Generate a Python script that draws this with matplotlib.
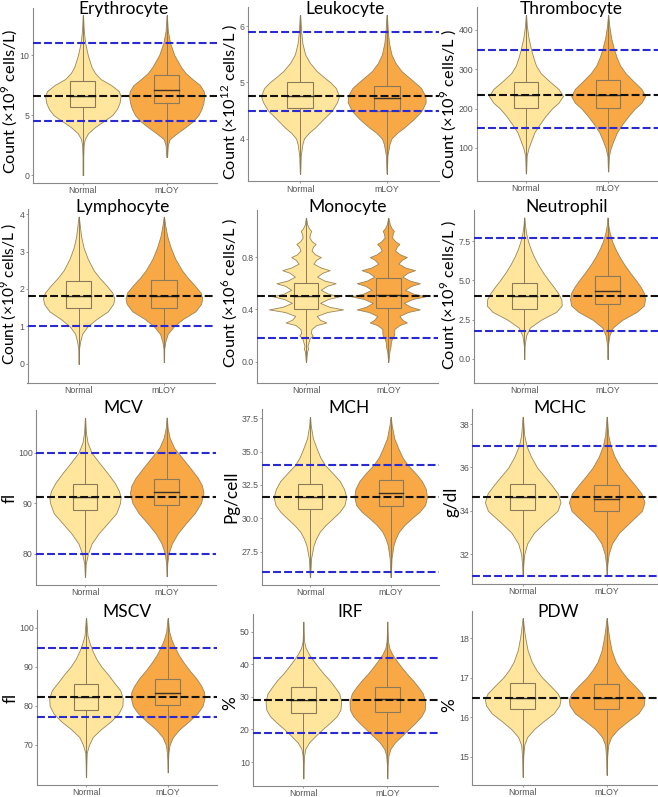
import numpy as np
import matplotlib.pyplot as plt
from matplotlib.patches import Rectangle

plt.rcParams['mathtext.fontset'] = 'custom'
plt.rcParams['mathtext.rm'] = 'Lato'

groups = ['Normal', 'mLOY']

# ---- Erythrocyte (x10^9 cells/L)
ery_y_n = [0, 1.5, 2.5, 3.0, 3.5, 4.0, 4.5, 5.0, 5.5, 6.0, 6.6, 7.0, 7.5, 8.0, 8.5, 9.0, 10.0, 11.0, 12.0, 13.3]
ery_w_n = [0.01, 0.01, 0.02, 0.05, 0.14, 0.32, 0.55, 0.78, 0.9, 0.97, 1.0, 0.95, 0.75, 0.47, 0.32, 0.23, 0.13, 0.06, 0.025, 0.005]
ery_y_m = [1.5, 2.5, 3.0, 3.5, 4.0, 4.5, 5.0, 5.5, 6.0, 6.6, 7.0, 7.5, 8.0, 8.5, 9.0, 10.0, 11.0, 12.0, 13.3]
ery_w_m = [0.01, 0.03, 0.08, 0.28, 0.5, 0.7, 0.84, 0.92, 0.97, 1.0, 0.98, 0.88, 0.68, 0.5, 0.38, 0.2, 0.09, 0.03, 0.005]
ery_box = [[5.64, 6.6, 7.83], [5.97, 7.08, 8.3]]
ery_ref = [6.6, [4.5, 11.0]]

# ---- Leukocyte
leu_y_n = [3.38, 3.7, 3.9, 4.0, 4.1, 4.2, 4.35, 4.5, 4.65, 4.76, 4.9, 5.0, 5.1, 5.2, 5.35, 5.5, 5.7, 5.9, 6.2]
leu_w_n = [0.005, 0.02, 0.06, 0.1, 0.22, 0.39, 0.6, 0.82, 0.95, 1.0, 0.92, 0.78, 0.6, 0.43, 0.25, 0.13, 0.06, 0.03, 0.005]
leu_y_m = [3.38, 3.7, 3.9, 4.0, 4.1, 4.2, 4.35, 4.5, 4.65, 4.76, 4.9, 5.0, 5.1, 5.2, 5.35, 5.5, 5.7, 5.9, 6.2]
leu_w_m = [0.005, 0.02, 0.07, 0.12, 0.26, 0.45, 0.7, 0.9, 1.0, 0.99, 0.88, 0.72, 0.55, 0.38, 0.22, 0.12, 0.06, 0.03, 0.005]
leu_box = [[4.54, 4.76, 5.0], [4.49, 4.72, 4.94]]
leu_ref = [4.76, [4.5, 5.9]]

# ---- Thrombocyte
thr_y_n = [35, 80, 100, 120, 140, 160, 180, 200, 215, 232, 250, 270, 290, 310, 330, 350, 380, 410, 438]
thr_w_n = [0.005, 0.02, 0.07, 0.15, 0.23, 0.37, 0.52, 0.7, 0.88, 1.0, 0.88, 0.63, 0.4, 0.27, 0.2, 0.14, 0.07, 0.025, 0.005]
thr_y_m = [40, 80, 100, 120, 140, 160, 180, 200, 215, 232, 250, 270, 290, 310, 330, 350, 380, 410, 438]
thr_w_m = [0.005, 0.02, 0.07, 0.15, 0.24, 0.38, 0.54, 0.72, 0.9, 1.0, 0.9, 0.68, 0.47, 0.32, 0.23, 0.16, 0.08, 0.03, 0.005]
thr_box = [[201, 234, 267], [202, 235, 272]]
thr_ref = [234, [150, 350]]

# ---- Lymphocyte
lym_y_n = [0, 0.4, 0.6, 0.8, 1.0, 1.2, 1.4, 1.6, 1.75, 1.9, 2.1, 2.3, 2.5, 2.8, 3.1, 3.4, 3.7, 3.93]
lym_w_n = [0.005, 0.01, 0.04, 0.09, 0.23, 0.47, 0.76, 0.9, 0.93, 0.88, 0.72, 0.54, 0.39, 0.24, 0.13, 0.065, 0.03, 0.005]
lym_y_m = [0.05, 0.4, 0.6, 0.8, 1.0, 1.2, 1.4, 1.6, 1.75, 1.9, 2.1, 2.3, 2.5, 2.8, 3.1, 3.4, 3.7, 3.93]
lym_w_m = [0.005, 0.01, 0.04, 0.1, 0.26, 0.5, 0.82, 0.97, 1.0, 0.96, 0.8, 0.62, 0.47, 0.3, 0.18, 0.09, 0.035, 0.005]
lym_box = [[1.48, 1.82, 2.2], [1.48, 1.82, 2.23]]
lym_ref = [1.82, [1.0]]

# ---- Monocyte (counts come in 0.1 steps -> spiky violins)
mon_y = [0.0, 0.05, 0.08, 0.1, 0.12, 0.15, 0.18, 0.2, 0.22, 0.25, 0.28, 0.3, 0.32, 0.35, 0.38, 0.4,
         0.42, 0.45, 0.48, 0.5, 0.52, 0.55, 0.58, 0.6, 0.62, 0.65, 0.68, 0.7, 0.72, 0.75, 0.78, 0.8,
         0.82, 0.85, 0.88, 0.9, 0.92, 0.95, 0.98, 1.0, 1.02, 1.05, 1.1]
mon_w_n = [0.005, 0.02, 0.03, 0.06, 0.04, 0.07, 0.1, 0.18, 0.13, 0.15, 0.28, 0.55, 0.38, 0.29, 0.57, 1.0,
           0.63, 0.38, 0.6, 0.9, 0.6, 0.4, 0.56, 0.8, 0.5, 0.3, 0.44, 0.64, 0.4, 0.2, 0.28, 0.4,
           0.25, 0.15, 0.19, 0.26, 0.16, 0.09, 0.11, 0.14, 0.08, 0.03, 0.005]
mon_w_m = [0.005, 0.02, 0.03, 0.05, 0.06, 0.07, 0.1, 0.15, 0.16, 0.16, 0.3, 0.5, 0.38, 0.3, 0.53, 0.85,
           0.6, 0.42, 0.66, 1.0, 0.68, 0.45, 0.62, 0.85, 0.58, 0.38, 0.52, 0.72, 0.46, 0.27, 0.37, 0.5,
           0.32, 0.18, 0.23, 0.3, 0.19, 0.1, 0.12, 0.15, 0.09, 0.04, 0.005]
mon_box = [[0.4, 0.5, 0.6], [0.41, 0.51, 0.64]]
mon_ref = [0.5, [0.18]]

# ---- Neutrophil
neu_y_n = [0, 0.8, 1.2, 1.5, 2.0, 2.5, 3.0, 3.4, 3.8, 4.2, 4.6, 5.0, 5.5, 6.0, 6.5, 7.0, 7.5, 8.0, 8.5, 9.0]
neu_w_n = [0.005, 0.01, 0.03, 0.05, 0.15, 0.45, 0.85, 1.0, 0.99, 0.9, 0.78, 0.65, 0.5, 0.37, 0.26, 0.17, 0.1, 0.05, 0.02, 0.005]
neu_y_m = [0, 0.8, 1.2, 1.5, 2.0, 2.5, 3.0, 3.4, 3.8, 4.2, 4.6, 5.0, 5.5, 6.0, 6.5, 7.0, 7.5, 8.0, 8.5, 9.0]
neu_w_m = [0.005, 0.01, 0.03, 0.05, 0.14, 0.4, 0.78, 0.97, 1.0, 0.97, 0.88, 0.76, 0.6, 0.45, 0.32, 0.21, 0.12, 0.06, 0.02, 0.005]
neu_box = [[3.18, 4.0, 4.85], [3.5, 4.32, 5.3]]
neu_ref = [4.0, [1.8, 7.7]]

# ---- MCV
mcv_y_n = [75.4, 78, 80, 82, 84, 86, 88, 90, 91.2, 92.5, 94, 96, 98, 100, 102, 104, 106.9]
mcv_w_n = [0.005, 0.02, 0.08, 0.18, 0.37, 0.61, 0.85, 0.95, 0.97, 0.92, 0.81, 0.61, 0.39, 0.18, 0.07, 0.025, 0.005]
mcv_y_m = [75.5, 78, 80, 82, 84, 86, 88, 90, 92, 93.5, 95, 97, 99, 101, 103, 105, 107]
mcv_w_m = [0.005, 0.015, 0.05, 0.14, 0.3, 0.52, 0.76, 0.93, 1.0, 0.96, 0.85, 0.64, 0.42, 0.2, 0.08, 0.025, 0.005]
mcv_box = [[88.6, 91.2, 93.8], [89.7, 92.2, 94.8]]
mcv_ref = [91.2, [80, 100]]

# ---- MCH
mch_y_n = [25.6, 27, 28, 28.5, 29, 29.5, 30, 30.5, 31, 31.6, 32.2, 32.8, 33.4, 34, 34.6, 35.2, 36, 37, 37.6]
mch_w_n = [0.005, 0.03, 0.1, 0.17, 0.27, 0.43, 0.63, 0.82, 0.95, 1.0, 0.94, 0.82, 0.62, 0.41, 0.28, 0.19, 0.08, 0.02, 0.005]
mch_y_m = [25.6, 27, 28, 28.5, 29, 29.5, 30, 30.5, 31, 31.6, 32.2, 32.8, 33.4, 34, 34.6, 35.2, 36, 37, 37.6]
mch_w_m = [0.005, 0.025, 0.08, 0.14, 0.23, 0.38, 0.58, 0.8, 0.95, 1.0, 0.97, 0.86, 0.68, 0.47, 0.32, 0.22, 0.1, 0.03, 0.005]
mch_box = [[30.7, 31.6, 32.6], [30.9, 31.9, 32.9]]
mch_ref = [31.6, [26.0, 34.0]]

# ---- MCHC
mchc_y_n = [31.0, 31.5, 32, 32.5, 33, 33.5, 34, 34.4, 34.8, 35.2, 35.6, 36, 36.5, 37, 37.5, 38.34]
mchc_w_n = [0.005, 0.015, 0.04, 0.12, 0.3, 0.6, 0.92, 1.0, 0.93, 0.76, 0.57, 0.38, 0.22, 0.1, 0.04, 0.005]
mchc_y_m = [31.0, 31.5, 32, 32.5, 33, 33.5, 34, 34.4, 34.8, 35.2, 35.6, 36, 36.5, 37, 37.5, 38.34]
mchc_w_m = [0.005, 0.015, 0.05, 0.14, 0.33, 0.63, 0.93, 1.0, 0.92, 0.74, 0.55, 0.37, 0.21, 0.1, 0.04, 0.005]
mchc_box = [[34.04, 34.63, 35.25], [34.0, 34.55, 35.2]]
mchc_ref = [34.63, [31.0, 37.0]]

# ---- MSCV
mscv_y_n = [61.9, 65, 68, 70, 72, 74, 76, 78, 80, 82, 84, 86, 88, 90, 92, 94, 96, 98, 102.4]
mscv_w_n = [0.005, 0.01, 0.02, 0.08, 0.18, 0.4, 0.67, 0.88, 0.99, 1.0, 0.93, 0.76, 0.6, 0.42, 0.28, 0.18, 0.1, 0.04, 0.005]
mscv_y_m = [63, 66, 68, 70, 72, 74, 76, 78, 80, 82, 83.5, 85, 87, 89, 91, 93, 95, 97, 99, 102.4]
mscv_w_m = [0.005, 0.01, 0.02, 0.05, 0.14, 0.32, 0.57, 0.8, 0.95, 1.0, 0.99, 0.92, 0.78, 0.6, 0.44, 0.3, 0.19, 0.1, 0.04, 0.005]
mscv_box = [[79.0, 82.2, 85.6], [80.1, 83.2, 86.8]]
mscv_ref = [82.2, [77.1, 94.7]]

# ---- IRF
irf_y_n = [5, 9, 12, 14, 16, 18, 20, 22, 24, 26, 28.5, 31, 33, 35, 37, 39, 41, 43, 45, 47, 50, 53]
irf_w_n = [0.005, 0.01, 0.02, 0.05, 0.15, 0.32, 0.5, 0.7, 0.88, 0.98, 1.0, 0.95, 0.83, 0.7, 0.54, 0.4, 0.27, 0.15, 0.06, 0.02, 0.01, 0.005]
irf_y_m = [5, 9, 12, 14, 16, 18, 20, 22, 24, 26, 28.5, 31, 33, 35, 37, 39, 41, 43, 45, 47, 50, 53]
irf_w_m = [0.005, 0.01, 0.03, 0.08, 0.2, 0.38, 0.56, 0.74, 0.9, 0.99, 1.0, 0.94, 0.82, 0.68, 0.52, 0.38, 0.25, 0.13, 0.05, 0.02, 0.01, 0.005]
irf_box = [[25.05, 29.0, 33.0], [25.25, 29.2, 33.1]]
irf_ref = [29.0, [19.0, 42.0]]

# ---- PDW
pdw_y_n = [14.5, 15.0, 15.3, 15.5, 15.7, 15.9, 16.1, 16.3, 16.45, 16.6, 16.8, 17.0, 17.2, 17.4, 17.7, 18.0, 18.2, 18.5]
pdw_w_n = [0.005, 0.015, 0.04, 0.12, 0.3, 0.55, 0.82, 0.97, 1.0, 0.93, 0.73, 0.52, 0.36, 0.24, 0.13, 0.07, 0.04, 0.005]
pdw_y_m = [14.55, 15.0, 15.3, 15.5, 15.7, 15.9, 16.1, 16.3, 16.45, 16.6, 16.8, 17.0, 17.2, 17.4, 17.7, 18.0, 18.2, 18.5]
pdw_w_m = [0.005, 0.015, 0.04, 0.12, 0.3, 0.56, 0.84, 0.98, 1.0, 0.93, 0.74, 0.53, 0.37, 0.24, 0.13, 0.07, 0.04, 0.005]
pdw_box = [[16.21, 16.5, 16.87], [16.21, 16.5, 16.84]]
pdw_ref = [16.5, []]

# layout (pixel box of each panel: left, right, top, bottom), limits, ticks, labels
W, H = 658, 797
cnt = 'Count (\u00d710$^{\\mathregular{%s}}$ cells/L%s)'
panels = [
    ('Erythrocyte', cnt % ('9', ''), (32.6, 217, 7.5, 183), (-0.66, 13.96), [0, 5, 10], '%d',
     ery_y_n, ery_w_n, ery_y_m, ery_w_m, ery_box, ery_ref, (123, 9), (9.5, 101), 11.8),
    ('Leukocyte', cnt % ('12', ' '), (248, 438.7, 7, 181.4), (3.24, 6.34), [4, 5, 6], '%d',
     leu_y_n, leu_w_n, leu_y_m, leu_w_m, leu_box, leu_ref, (345, 9), (229.5, 102), 11.8),
    ('Thrombocyte', cnt % ('9', ' '), (476.6, 657.5, 7.2, 181.1), (15.5, 458), [100, 200, 300, 400], '%d',
     thr_y_n, thr_w_n, thr_y_m, thr_w_m, thr_box, thr_ref, (571, 9), (448.5, 104), 11.8),
    ('Lymphocyte', cnt % ('9', ' '), (27.5, 215, 209.2, 383.3), (-0.52, 4.13), [0, 1, 2, 3, 4], '%d',
     lym_y_n, lym_w_n, lym_y_m, lym_w_m, lym_box, lym_ref, (123, 207), (9.0, 294), 11.2),
    ('Monocyte', cnt % ('6', ' '), (256.6, 437.7, 210, 383.3), (-0.165, 1.16), [0.0, 0.4, 0.8], '%.1f',
     mon_y, mon_w_n, mon_y, mon_w_m, mon_box, mon_ref, (348, 207), (229.5, 293), 11.8),
    ('Neutrophil', cnt % ('9', ' '), (474.3, 657.5, 210, 383.3), (-1.55, 9.48), [0.0, 2.5, 5.0, 7.5], '%.1f',
     neu_y_n, neu_w_n, neu_y_m, neu_w_m, neu_box, neu_ref, (567, 207), (448.5, 295), 11.8),
    ('MCV', 'fl', (36, 215.7, 410, 584.8), (73.8, 108.5), [80, 90, 100], '%d',
     mcv_y_n, mcv_w_n, mcv_y_m, mcv_w_m, mcv_box, mcv_ref, (123, 408), (10, 498), 12.3),
    ('MCH', 'Pg/cell', (261.6, 439, 409, 585), (25.0, 38.2), [27.5, 30.0, 32.5, 35.0, 37.5], '%.1f',
     mch_y_n, mch_w_n, mch_y_m, mch_w_m, mch_box, mch_ref, (349, 408), (231, 497), 12.3),
    ('MCHC', 'g/dl', (472.3, 657.1, 408.7, 584), (30.63, 38.71), [32, 34, 36, 38], '%d',
     mchc_y_n, mchc_w_n, mchc_y_m, mchc_w_m, mchc_box, mchc_ref, (560, 408), (452, 502), 12.3),
    ('MSCV', 'fl', (37, 216.7, 610.4, 784.5), (59.9, 104.4), [70, 80, 90, 100], '%d',
     mscv_y_n, mscv_w_n, mscv_y_m, mscv_w_m, mscv_box, mscv_ref, (127, 612), (11, 698), 12.3),
    ('IRF', '%', (253, 437.7, 613.9, 786), (2.65, 55.4), [10, 20, 30, 40, 50], '%d',
     irf_y_n, irf_w_n, irf_y_m, irf_w_m, irf_box, irf_ref, (350, 612), (230, 703), 12.3),
    ('PDW', '%', (472.3, 657, 610.5, 784.5), (14.3, 18.7), [15, 16, 17, 18], '%d',
     pdw_y_n, pdw_w_n, pdw_y_m, pdw_w_m, pdw_box, pdw_ref, (558, 612), (449, 705), 12.3),
]

fills = ['#FFE69C', '#F8A845']
edge = '#9a8558'
gray = '#555555'

fig = plt.figure(figsize=(W / 100, H / 100), dpi=100)

for (title, ylab, (l, r, t, b), ylim, ticks, fmt, yn, wn, ym, wm, box, ref, tpos, lpos, lsize) in panels:
    ax = fig.add_axes([l / W, 1 - b / H, (r - l) / W, (b - t) / H])
    ax.set_xlim(0.4, 2.6)
    ax.set_ylim(*ylim)
    for i, (yy, ww) in enumerate([(yn, wn), (ym, wm)]):
        xc = i + 1
        yy = np.array(yy)
        ww = np.array(ww) * 0.45
        ax.fill_betweenx(yy, xc - ww, xc + ww, facecolor=fills[i], edgecolor=edge, lw=0.6, zorder=1)
        q1, med, q3 = box[i]
        ax.plot([xc, xc], [yy.min(), q1], color='#8a7a5a', lw=0.7, zorder=2)
        ax.plot([xc, xc], [q3, yy.max()], color='#8a7a5a', lw=0.7, zorder=2)
        ax.add_patch(Rectangle((xc - 0.15, q1), 0.3, q3 - q1, facecolor='none',
                               edgecolor='#8a7a5a', lw=0.8, zorder=2))
        ax.plot([xc - 0.15, xc + 0.15], [med, med], color='#3b3224', lw=1.0, zorder=3)
    for v in ref[1]:
        ax.axhline(v, color='#2a2ad2', lw=1.5, dashes=(3.8, 1.5), zorder=4)
    ax.axhline(ref[0], color='#111111', lw=1.5, dashes=(3.8, 1.5), zorder=5)

    ax.set_xticks([1, 2])
    ax.set_xticklabels(groups, fontsize=6.3, color=gray, family='Liberation Sans')
    ax.set_yticks(ticks)
    ax.set_yticklabels([fmt % v for v in ticks], fontsize=6.3, color=gray, family='Liberation Sans')
    ax.tick_params(length=1.5, width=0.6, color='#888888', pad=0.8)
    for s in ['top', 'right']:
        ax.spines[s].set_visible(False)
    for s in ['left', 'bottom']:
        ax.spines[s].set_color('#888888')
        ax.spines[s].set_linewidth(0.8)

    fig.text(tpos[0] / W, 1 - tpos[1] / H, title, ha='center', va='center', fontsize=12.5, family='Lato')
    fig.text(lpos[0] / W, 1 - lpos[1] / H, ylab, ha='center', va='center', rotation=90,
             fontsize=lsize, family='Lato')

fig.savefig('out.png', dpi=100)
